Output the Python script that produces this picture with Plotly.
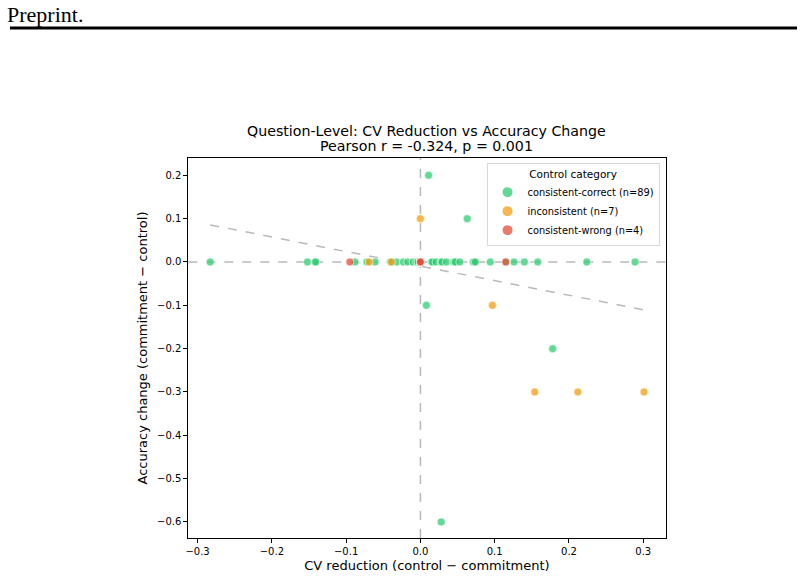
import plotly.graph_objects as go
import numpy as np

# ---- data ----
green_x = [0.011, 0.063, 0.008, 0.178, 0.028,
           -0.283, -0.152, -0.142, -0.141, -0.088, -0.072, -0.061, -0.040, -0.032, -0.023,
           -0.017, -0.010, -0.005, -0.003, 0.015, 0.016, 0.021, 0.028, 0.029, 0.035,
           0.044, 0.046, 0.047, 0.053, 0.071, 0.072, 0.074, 0.094, 0.115, 0.126,
           0.140, 0.158, 0.224, 0.289,
           0.0, 0.0, 0.0, 0.0, 0.0, 0.0, 0.0, 0.0, 0.0, 0.0,
           0.0, 0.0, 0.0, 0.0, 0.0, 0.0, 0.0, 0.0, 0.0, 0.0,
           0.0, 0.0, 0.0, 0.0, 0.0, 0.0, 0.0, 0.0, 0.0, 0.0,
           0.0, 0.0, 0.0, 0.0, 0.0, 0.0, 0.0, 0.0, 0.0, 0.0,
           0.0, 0.0, 0.0, 0.0, 0.0, 0.0, 0.0, 0.0, 0.0, 0.0]
green_y = [0.2, 0.1, -0.1, -0.2, -0.6,
           0, 0, 0, 0, 0, 0, 0, 0, 0, 0,
           0, 0, 0, 0, 0, 0, 0, 0, 0, 0,
           0, 0, 0, 0, 0, 0, 0, 0, 0, 0,
           0, 0, 0, 0,
           0, 0, 0, 0, 0, 0, 0, 0, 0, 0,
           0, 0, 0, 0, 0, 0, 0, 0, 0, 0,
           0, 0, 0, 0, 0, 0, 0, 0, 0, 0,
           0, 0, 0, 0, 0, 0, 0, 0, 0, 0,
           0, 0, 0, 0, 0, 0, 0, 0, 0, 0]
orange_x = [0.0, 0.097, 0.154, 0.212, 0.301, -0.069, -0.039]
orange_y = [0.1, -0.1, -0.3, -0.3, -0.3, 0.0, 0.0]
red_x = [-0.095, 0.0, 0.0, 0.115]
red_y = [0.0, 0.0, 0.0, 0.0]

fit_slope = -0.336
fit_intercept = -0.0095

series_names = ["consistent-correct (n=89)", "inconsistent (n=7)", "consistent-wrong (n=4)"]
x_ticks = [-0.3, -0.2, -0.1, 0.0, 0.1, 0.2, 0.3]
y_ticks = [-0.6, -0.5, -0.4, -0.3, -0.2, -0.1, 0.0, 0.1, 0.2]

title_line1 = "Question-Level: CV Reduction vs Accuracy Change"
title_line2 = "Pearson r = -0.324, p = 0.001"

# ---- figure ----
W, H = 804, 580
L, R, T, B = 186, 665, 158, 538

fig = go.Figure()

all_x = green_x + orange_x + red_x
x0, x1 = min(all_x), max(all_x)
fig.add_trace(go.Scatter(
    x=[x0, x1], y=[fit_intercept + fit_slope * x0, fit_intercept + fit_slope * x1],
    mode="lines", line=dict(color="rgba(128,128,128,0.55)", width=1.5, dash="dash"),
    showlegend=False, hoverinfo="skip"))

colors = ["rgba(46,204,113,0.75)", "rgba(243,156,18,0.75)", "rgba(231,76,60,0.75)"]
for name, xs, ys, c in zip(series_names, [green_x, orange_x, red_x], [green_y, orange_y, red_y], colors):
    fig.add_trace(go.Scatter(
        x=xs, y=ys, mode="markers", name=name,
        marker=dict(size=8, color=c, line=dict(color="white", width=0.6))))

# reference lines at 0
fig.add_shape(type="line", xref="x domain", yref="y", x0=0, x1=1, y0=0, y1=0,
              line=dict(color="rgba(128,128,128,0.55)", width=1.5, dash="dash"), layer="below")
fig.add_shape(type="line", xref="x", yref="y domain", x0=0, x1=0, y0=0, y1=1,
              line=dict(color="rgba(128,128,128,0.55)", width=1.5, dash="dash"), layer="below")

# header
fig.add_annotation(xref="paper", yref="paper", x=2 / W, y=1.0, xanchor="left", yanchor="top",
                   text="Preprint.", showarrow=False,
                   font=dict(family="Liberation Serif, serif", size=22, color="black"))
fig.add_shape(type="line", xref="paper", yref="paper", x0=7 / W, x1=797 / W,
              y0=1 - 28 / H, y1=1 - 28 / H, line=dict(color="black", width=3))

# title
fig.add_annotation(xref="paper", yref="paper", x=(L + R) / 2 / W, y=1 - 141 / H,
                   xanchor="center", yanchor="bottom", showarrow=False,
                   text=title_line1, font=dict(family="DejaVu Sans", size=14.2, color="black"))
fig.add_annotation(xref="paper", yref="paper", x=(L + R) / 2 / W, y=1 - 156 / H,
                   xanchor="center", yanchor="bottom", showarrow=False,
                   text=title_line2, font=dict(family="DejaVu Sans", size=14.2, color="black"))

axis_common = dict(showline=True, mirror=True, linecolor="black", linewidth=1,
                   ticks="outside", ticklen=4, tickcolor="black", tickwidth=1,
                   showgrid=False, zeroline=False, tickformat=".1f",
                   tickfont=dict(family="DejaVu Sans", size=10, color="black"))

fig.update_layout(
    width=W, height=H, margin=dict(l=0, r=0, t=0, b=0),
    paper_bgcolor="white", plot_bgcolor="white",
    font=dict(family="DejaVu Sans", color="black"),
    xaxis=dict(domain=[L / W, R / W], range=[-0.3125, 0.330], tickvals=x_ticks,
               title=dict(text="CV reduction (control − commitment)", standoff=4,
                          font=dict(family="DejaVu Sans", size=13, color="black")),
               **axis_common),
    yaxis=dict(domain=[(H - B) / H, (H - T) / H], range=[-0.637, 0.240], tickvals=y_ticks,
               title=dict(text="Accuracy change (commitment − control)", standoff=6,
                          font=dict(family="DejaVu Sans", size=13, color="black")),
               **axis_common),
    legend=dict(x=659 / W, y=1 - 163 / H, xanchor="right", yanchor="top",
                bgcolor="rgba(255,255,255,0.8)", bordercolor="#d8d8d8", borderwidth=1,
                font=dict(family="DejaVu Sans", size=9.8, color="black"),
                title=dict(text="Control category", side="top center",
                           font=dict(family="DejaVu Sans", size=10.5, color="black")),
                itemsizing="constant", tracegroupgap=0),
    showlegend=True,
)

fig.write_html("out.html")
